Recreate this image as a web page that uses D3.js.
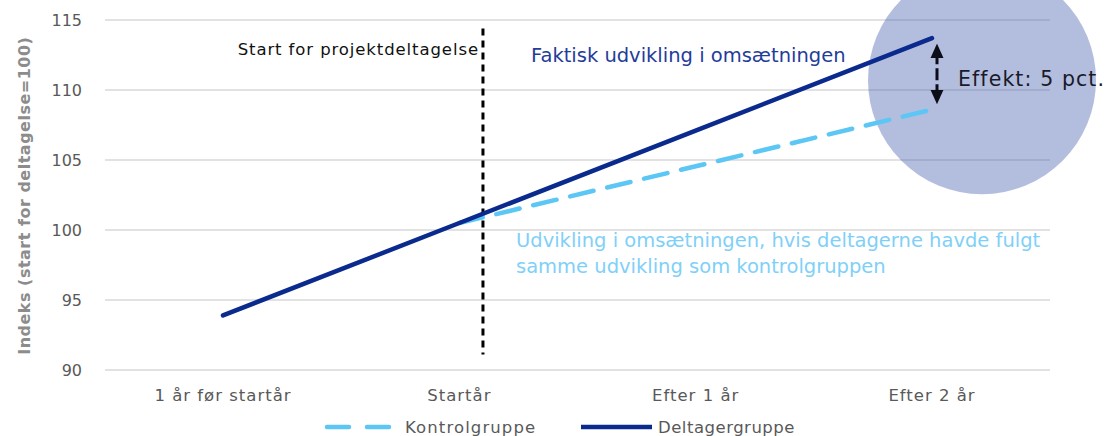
<!DOCTYPE html>
<html>
<head>
<meta charset="utf-8">
<script src="https://cdn.jsdelivr.net/npm/d3@7"></script>
<style>
  body { margin: 0; background: #fff; }
  svg { display: block; font-family: "DejaVu Sans", sans-serif; }
</style>
</head>
<body>
<script>
var categories = ["1 år før startår", "Startår", "Efter 1 år", "Efter 2 år"];
var deltager = [93.9, 100.5, 107.1, 113.7];
var kontrol = [null, 100.5, 104.55, 108.6];
var yTicks = [90, 95, 100, 105, 110, 115];
var effekt = 5;

var W = 1112, H = 436;
var svg = d3.select("body").append("svg").attr("width", W).attr("height", H);

var x = d3.scalePoint().domain(categories).range([223, 932]);
var y = d3.scaleLinear().domain([90, 115]).range([370, 20]);

// grid
svg.append("g").selectAll("line").data(yTicks).enter().append("line")
  .attr("x1", 105).attr("x2", 1050)
  .attr("y1", function(d) { return y(d); }).attr("y2", function(d) { return y(d); })
  .attr("stroke", "#d9d9d9").attr("stroke-width", 1.3);

// y labels
svg.append("g").selectAll("text").data(yTicks).enter().append("text")
  .attr("x", 82).attr("y", function(d) { return y(d); }).attr("dy", "0.35em")
  .attr("text-anchor", "end").attr("fill", "#595959").attr("font-size", 16)
  .text(function(d) { return d; });

svg.append("text")
  .attr("transform", "translate(30," + y(102.45) + ") rotate(-90)")
  .attr("text-anchor", "middle").attr("fill", "#8c8c8c")
  .attr("font-size", 16).attr("font-weight", "bold").attr("letter-spacing", 0.5)
  .text("Indeks (start for deltagelse=100)");

// x labels
svg.append("g").selectAll("text").data(categories).enter().append("text")
  .attr("x", function(d) { return x(d); }).attr("y", 401)
  .attr("text-anchor", "middle").attr("fill", "#595959")
  .attr("font-size", 16.5).attr("letter-spacing", 1)
  .text(function(d) { return d; });

// effect circle
svg.append("circle")
  .attr("cx", x("Efter 2 år") + 50).attr("cy", y(110.7)).attr("r", 114)
  .attr("fill", "#4a64b0").attr("fill-opacity", 0.42);

// start line
var xStart = x("Startår") + 0.1 * x.step();
svg.append("line")
  .attr("x1", xStart).attr("x2", xStart).attr("y1", y(114.4)).attr("y2", y(91.1))
  .attr("stroke", "#000").attr("stroke-width", 3).attr("stroke-dasharray", "7,5");

var line = d3.line()
  .defined(function(d) { return d.v != null; })
  .x(function(d) { return x(d.c); })
  .y(function(d) { return y(d.v); });

svg.append("path")
  .datum(categories.map(function(c, i) { return { c: c, v: kontrol[i] }; }))
  .attr("d", line).attr("fill", "none")
  .attr("stroke", "#5cc6f5").attr("stroke-width", 4.5)
  .attr("stroke-dasharray", "24,14").attr("stroke-linecap", "round");

svg.append("path")
  .datum(categories.map(function(c, i) { return { c: c, v: deltager[i] }; }))
  .attr("d", line).attr("fill", "none")
  .attr("stroke", "#0a2a8e").attr("stroke-width", 4.5).attr("stroke-linecap", "round");

// arrow
var defs = svg.append("defs");
defs.append("marker").attr("id", "ah").attr("viewBox", "0 0 10 10")
  .attr("refX", 4).attr("refY", 5).attr("markerWidth", 4.8).attr("markerHeight", 4.8)
  .attr("orient", "auto-start-reverse")
  .append("path").attr("d", "M0,0.5 L10,5 L0,9.5 Z").attr("fill", "#0d0d1a");
var xa = x("Efter 2 år") + 5;
svg.append("line")
  .attr("x1", xa).attr("x2", xa)
  .attr("y1", y(deltager[3] - 1)).attr("y2", y(kontrol[3] + 1))
  .attr("stroke", "#0d0d1a").attr("stroke-width", 3)
  .attr("stroke-dasharray", "12,4")
  .attr("marker-start", "url(#ah)").attr("marker-end", "url(#ah)");

svg.append("text").attr("x", xa + 21).attr("y", y(110.8)).attr("dy", "0.35em")
  .attr("fill", "#1a1a2a").attr("font-size", 20.5).attr("letter-spacing", 1.1)
  .text("Effekt: " + effekt + " pct.");

// annotations
svg.append("text").attr("x", xStart - 4).attr("y", 55)
  .attr("text-anchor", "end").attr("fill", "#111")
  .attr("font-size", 16.5).attr("letter-spacing", 0.9)
  .text("Start for projektdeltagelse");

svg.append("text").attr("x", 531).attr("y", 62)
  .attr("fill", "#1f3d99").attr("font-size", 19.5)
  .text("Faktisk udvikling i omsætningen");

var t = svg.append("text").attr("fill", "#7fd0f8").attr("font-size", 19.5);
t.append("tspan").attr("x", 516).attr("y", 247).text("Udvikling i omsætningen, hvis deltagerne havde fulgt");
t.append("tspan").attr("x", 516).attr("y", 273).text("samme udvikling som kontrolgruppen");

// legend
var lg = svg.append("g").attr("transform", "translate(0,427)");
lg.append("line").attr("x1", 327).attr("x2", 392).attr("y1", 0).attr("y2", 0)
  .attr("stroke", "#5cc6f5").attr("stroke-width", 4.5).attr("stroke-dasharray", "22,18")
  .attr("stroke-linecap", "round");
lg.append("text").attr("x", 405).attr("y", 0).attr("dy", "0.35em")
  .attr("fill", "#595959").attr("font-size", 16.5).attr("letter-spacing", 1.1).text("Kontrolgruppe");
lg.append("line").attr("x1", 581).attr("x2", 652).attr("y1", 0).attr("y2", 0)
  .attr("stroke", "#0a2a8e").attr("stroke-width", 4.5);
lg.append("text").attr("x", 658).attr("y", 0).attr("dy", "0.35em")
  .attr("fill", "#595959").attr("font-size", 16.5).attr("letter-spacing", 0.5).text("Deltagergruppe");
</script>
</body>
</html>
